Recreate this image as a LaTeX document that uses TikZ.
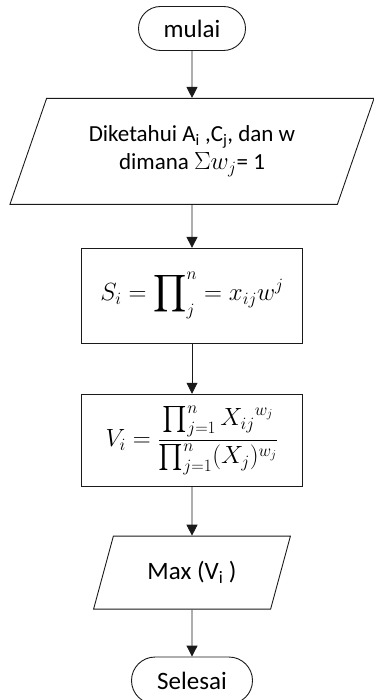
\documentclass[tikz,border=0pt]{standalone}
\usepackage{amsmath}
\usepackage{fontspec}
\setmainfont{Carlito}
\DeclareFontShape{OMX}{cmex}{m}{n}{<->cmex10}{}
\usetikzlibrary{
  arrows.meta,
  shapes.geometric,
  shapes.misc,
  positioning
}
\definecolor{fcLine}{HTML}{1A1A1A}
\tikzset{
  fcnode/.style={
    draw=fcLine, line width=0.9pt, align=center, inner sep=0pt
  },
  terminal/.style={fcnode, rounded rectangle, minimum height=44pt, font=\fontsize{25}{28}\selectfont},
  inout/.style={fcnode, trapezium, trapezium left angle=63, trapezium right angle=117, trapezium stretches=true},
  proc/.style={fcnode, rectangle, minimum width=221pt, font=\fontsize{26}{30}\selectfont},
  flow/.style={-{Triangle[length=11pt, width=11pt]}, line width=0.9pt, fcLine}
}

\begin{document}
\begin{tikzpicture}[x=1pt, y=-1pt, node distance=47pt]
  \useasboundingbox (0,0) rectangle (373,700);
  \node[terminal, minimum width=107pt] (mulai) at (192,28.5) {mulai};
  \node[inout, minimum width=365pt, minimum height=106pt, font=\fontsize{23}{28}\selectfont, below=47pt of mulai] (input) {Diketahui A\textsubscript{i} ,C\textsubscript{j}, dan w\\dimana $\Sigma w_j$= 1};
  \node[proc, minimum height=95pt, below=43pt of input] (hitungS) {$\displaystyle S_i = \prod\nolimits_j^n = x_{ij}w^j$};
  \node[proc, minimum height=92pt, below=50pt of hitungS] (hitungV) {$\displaystyle V_i = \frac{\prod_{j=1}^n {X_{ij}}^{w_j}}{\prod_{j=1}^n (X_j)^{w_j}}$};
  \node[inout, minimum width=197pt, minimum height=73pt, font=\fontsize{25}{28}\selectfont, below=49pt of hitungV] (maks) {Max (V\textsubscript{i} )};
  \node[terminal, minimum width=121pt, minimum height=47pt, below=47pt of maks] (selesai) {Selesai};
  \draw[flow] (mulai) -- (input);
  \draw[flow] (input) -- (hitungS);
  \draw[flow] (hitungS) -- (hitungV);
  \draw[flow] (hitungV) -- (maks);
  \draw[flow] (maks) -- (selesai);
\end{tikzpicture}
\end{document}
